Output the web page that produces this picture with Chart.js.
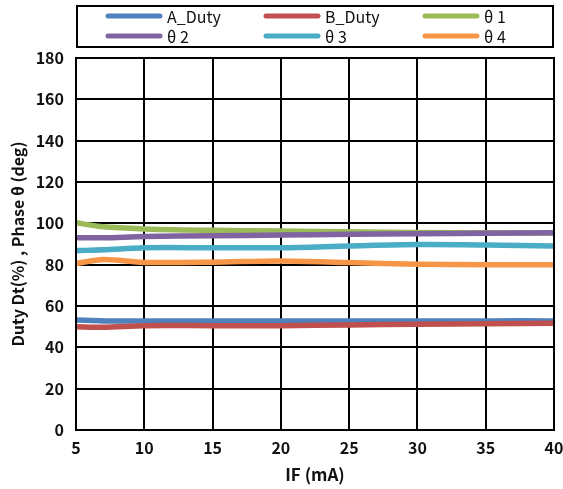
<!DOCTYPE html>
<html><head><meta charset="utf-8">
<script src="https://cdn.jsdelivr.net/npm/chart.js@4.4.1/dist/chart.umd.min.js"></script>
<style>html,body{margin:0;padding:0;background:#fff}#wrap{width:563px;height:489px}</style>
</head><body><div id="wrap"><canvas id="c"></canvas></div>
<script>
const IF_mA   = [5, 7, 10, 15, 20, 25, 30, 35, 40];
const A_Duty  = [53.2, 52.8, 52.8, 52.7, 52.7, 52.7, 52.7, 52.8, 52.8];
const B_Duty  = [50.0, 49.7, 50.5, 50.5, 50.5, 50.8, 51.2, 51.4, 51.6];
const theta1  = [100.3, 98.3, 97.3, 96.6, 96.3, 95.9, 95.6, 95.4, 95.3];
const theta2  = [93.0, 93.0, 93.6, 94.0, 94.3, 94.7, 95.0, 95.2, 95.4];
const theta3  = [86.8, 87.2, 88.2, 88.2, 88.2, 89.0, 89.7, 89.5, 89.0];
const theta4  = [80.6, 82.5, 81.1, 81.2, 81.8, 81.0, 80.2, 80.0, 80.0];
const yTicks  = [0, 20, 40, 60, 80, 100, 120, 140, 160, 180];
const xTicks  = [5, 10, 15, 20, 25, 30, 35, 40];
const names   = ['A_Duty', 'B_Duty', 'θ 1', 'θ 2', 'θ 3', 'θ 4'];
const colors  = ['#4F81BD', '#C0504D', '#9BBB59', '#8064A2', '#4BACC6', '#F79646'];
const series  = [A_Duty, B_Duty, theta1, theta2, theta3, theta4];
const FONT = "'Noto Sans CJK JP', 'Noto Sans', sans-serif";

const legendPlugin = {
  id: 'gridLegend',
  afterDraw(chart) {
    const ctx = chart.ctx;
    ctx.save();
    ctx.strokeStyle = '#000'; ctx.lineWidth = 2;
    ctx.strokeRect(77, 6, 476, 41);
    const colX = [106, 264, 423];
    const rowY = [16, 36];
    ctx.font = "16px " + FONT;
    ctx.textBaseline = 'middle';
    ctx.textAlign = 'left';
    names.forEach((n, i) => {
      const cx = colX[i % 3], cy = rowY[Math.floor(i / 3)];
      ctx.strokeStyle = colors[i]; ctx.lineWidth = 5; ctx.lineCap = 'round';
      ctx.beginPath(); ctx.moveTo(cx + 2, cy); ctx.lineTo(cx + 54, cy); ctx.stroke();
      ctx.fillStyle = '#111';
      ctx.fillText(n, cx + 61, cy + 1);
    });
    ctx.restore();
  }
};

new Chart(document.getElementById('c'), {
  type: 'line',
  data: {
    labels: IF_mA,
    datasets: series.map((s, i) => ({
      label: names[i],
      data: s.map((v, j) => ({ x: IF_mA[j], y: v })),
      borderColor: colors[i], backgroundColor: colors[i],
      borderWidth: 5.5, pointRadius: 0, tension: 0.3, fill: false,
      order: 6 - i
    }))
  },
  options: {
    responsive: true, maintainAspectRatio: false, animation: false,
    layout: { padding: { top: 58, right: 9, left: 0, bottom: 0 } },
    plugins: { legend: { display: false }, tooltip: { enabled: false } },
    scales: {
      x: {
        type: 'linear', min: 5, max: 40,
        afterBuildTicks: s => { s.ticks = xTicks.map(v => ({ value: v })); },
        afterFit: s => { s.height = 59; s.paddingLeft = 0; s.paddingRight = 0; },
        grid: { color: '#000', lineWidth: 2, drawTicks: false },
        border: { color: '#000', width: 2 },
        ticks: { color: '#111', padding: 8, font: { family: FONT, size: 16, weight: 'bold' } },
        title: { display: true, text: 'IF (mA)', color: '#111', padding: { top: 2 }, font: { family: FONT, size: 17, weight: 'bold' } }
      },
      y: {
        min: 0, max: 180,
        afterBuildTicks: s => { s.ticks = yTicks.map(v => ({ value: v })); },
        afterFit: s => { s.width = 76; s.paddingTop = 0; s.paddingBottom = 0; },
        grid: { color: '#000', lineWidth: 2, drawTicks: false },
        border: { color: '#000', width: 2 },
        ticks: { color: '#111', padding: 12, font: { family: FONT, size: 16, weight: 'bold' } },
        title: { display: true, text: 'Duty Dt(%) , Phase θ (deg)', color: '#111', padding: { top: 8, bottom: 4 }, font: { family: FONT, size: 16, weight: 'bold' } }
      }
    }
  },
  plugins: [legendPlugin, {
    id: 'frame',
    afterDraw(chart) {
      const a = chart.chartArea, ctx = chart.ctx;
      ctx.save(); ctx.strokeStyle = '#000'; ctx.lineWidth = 2;
      ctx.strokeRect(a.left, a.top, a.right - a.left, a.bottom - a.top);
      ctx.restore();
    }
  }]
});
</script></body></html>
